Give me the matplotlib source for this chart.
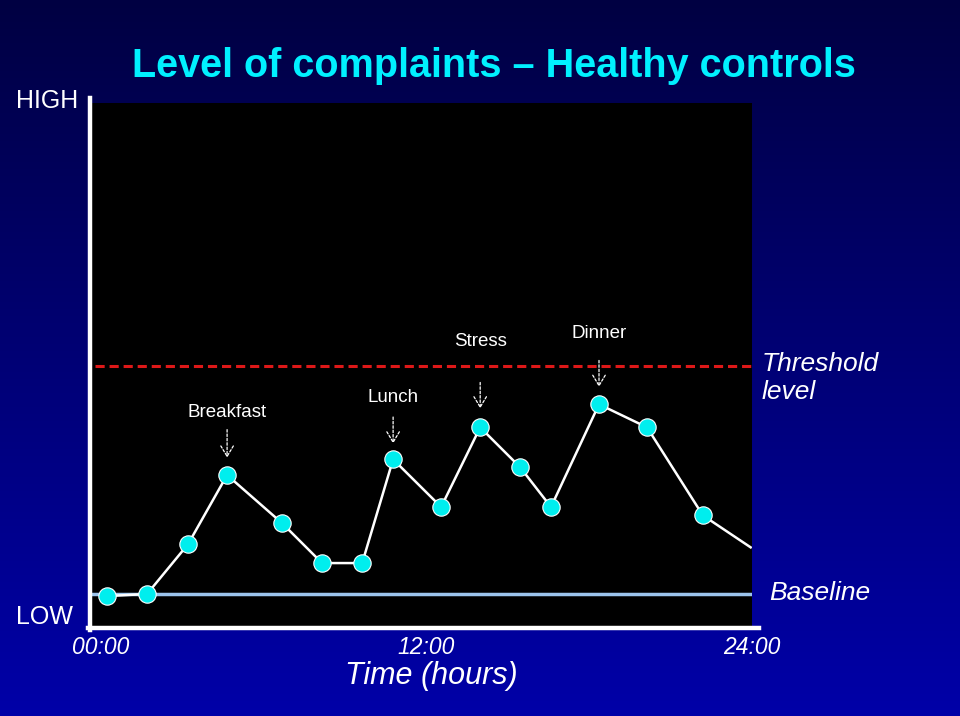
import matplotlib.pyplot as plt
import numpy as np
from matplotlib.lines import Line2D

plt.rcParams['font.family'] = ['Liberation Sans', 'DejaVu Sans']

# complaint level over the day (hours, arbitrary units 0-100)
hours = [0.23, 1.70, 3.21, 4.65, 6.68, 8.15, 9.63, 10.77, 12.54, 13.98,
         15.45, 16.59, 18.36, 20.13, 22.19]
level = [5.9, 6.3, 15.8, 29.0, 19.8, 12.2, 12.2, 32.0, 22.9, 38.1,
         30.5, 22.9, 42.5, 38.1, 21.3]
# line continues to the right edge without a marker
tail_hour = 23.95
tail_level = 15.2

baseline = 6.3
threshold = 49.9

events = ["Breakfast", "Lunch", "Stress", "Dinner"]
event_hours = [4.65, 10.77, 13.98, 18.36]
event_label_y = [41.0, 43.8, 54.5, 56.0]
event_arrow_top = [38.2, 40.6, 47.2, 51.4]
event_arrow_bottom = [31.8, 34.5, 41.2, 45.3]

xtick_pos = [0, 12, 24]
xtick_labels = ["00:00", "12:00", "24:00"]

W, H = 960, 716
fig = plt.figure(figsize=(9.6, 7.16), dpi=100)

# background gradient
bg = fig.add_axes([0, 0, 1, 1])
grad = np.linspace(0, 1, 256).reshape(-1, 1)
top = np.array([0, 0, 66]) / 255
bot = np.array([0, 0, 168]) / 255
img = top + (bot - top) * grad[:, :, None]
bg.imshow(img, aspect='auto', extent=[0, 1, 0, 1], origin='upper')
bg.set_axis_off()

def fx(px):
    return px / W

def fy(py):
    return 1 - py / H

x0, x1, y0, y1 = 92, 752, 627, 103
ax = fig.add_axes([fx(x0), fy(y0), fx(x1) - fx(x0), fy(y1) - fy(y0)])
ax.set_facecolor('black')
ax.set_xlim(-0.33, 24)
ax.set_ylim(0, 100)
for s in ax.spines.values():
    s.set_visible(False)
ax.set_xticks([])
ax.set_yticks([])

ax.axhline(threshold, color='#dd1818', lw=2.2, ls=(0, (3, 1.6)), xmin=0.005)
ax.axhline(baseline, color='#9cc4ec', lw=2.5, xmin=0, xmax=0.997)

ax.plot(hours + [tail_hour], level + [tail_level], color='white', lw=1.8,
        zorder=3)
ax.plot(hours, level, ls='none', marker='o', markersize=12.5,
        markerfacecolor='#00eeee', markeredgecolor='white',
        markeredgewidth=0.8, zorder=4)

for name, h, ly, at, ab in zip(events, event_hours, event_label_y,
                               event_arrow_top, event_arrow_bottom):
    ax.text(h, ly, name, color='white', fontsize=13.5, ha='center',
            va='center')
    ax.annotate("", xy=(h, ab), xytext=(h, at),
                arrowprops=dict(arrowstyle='->,head_width=0.3,head_length=0.5',
                                color='white', lw=0.9,
                                ls=(0, (2, 1.5)), mutation_scale=15))

# axis lines
fig.add_artist(Line2D([fx(90), fx(90)], [fy(98), fy(630)], color='white',
                      lw=3.2))
fig.add_artist(Line2D([fx(88), fx(759)], [fy(628), fy(628)], color='white',
                      lw=3.2))

for xp, lab in zip(xtick_pos, xtick_labels):
    px = x0 + (xp + 0.33) / 24.33 * (x1 - x0)
    fig.text(fx(px), fy(648), lab, color='white', fontsize=16.5,
             style='italic', ha='center', va='center')

fig.text(fx(431), fy(676), "Time (hours)", color='white', fontsize=22,
         style='italic', ha='center', va='center')
fig.text(fx(47), fy(101), "HIGH", color='white', fontsize=18,
         ha='center', va='center')
fig.text(fx(44), fy(617), "LOW", color='white', fontsize=18,
         ha='center', va='center')
fig.text(fx(762), fy(378), "Threshold\nlevel", color='white', fontsize=19,
         style='italic', ha='left', va='center', linespacing=1.2)
fig.text(fx(769), fy(593), "Baseline", color='white', fontsize=19,
         style='italic', ha='left', va='center')
fig.text(fx(494), fy(66), "Level of complaints \u2013 Healthy controls",
         color='#00f0ff', fontsize=28.5, fontweight='bold', ha='center',
         va='center')

fig.savefig("out.png", dpi=100)
